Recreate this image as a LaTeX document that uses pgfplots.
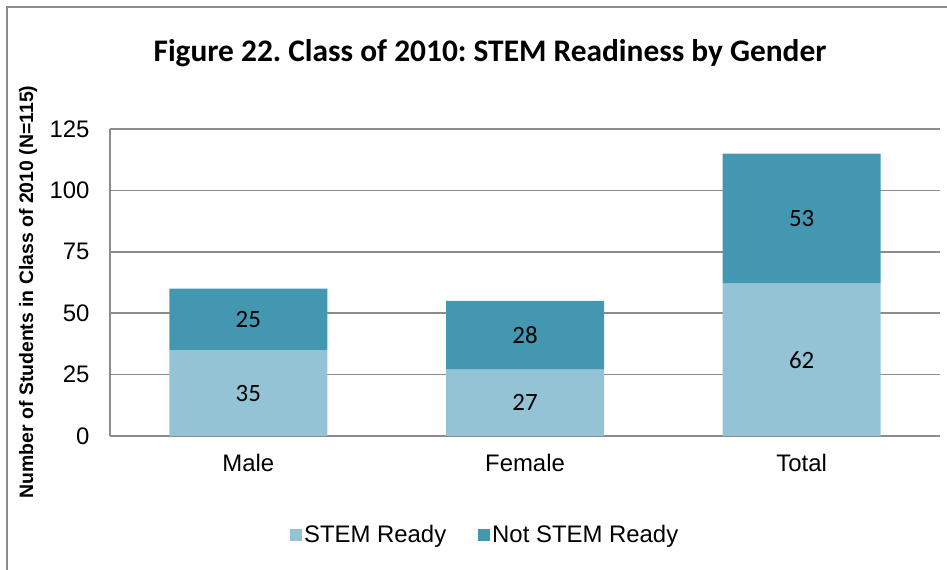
\documentclass[border=0pt]{standalone}
\usepackage{fontspec}
\setmainfont{Liberation Sans}
\newfontfamily\carlito{Carlito}
\usepackage{pgfplots}
\pgfplotsset{compat=1.18}
\definecolor{lightbar}{HTML}{93C3D5}
\definecolor{darkbar}{HTML}{4397B0}
\definecolor{gridc}{HTML}{8C8C8C}
\frenchspacing
\begin{document}
\begin{tikzpicture}[x=1bp,y=1bp]
\useasboundingbox (0,0) rectangle (947,570);
\draw[gridc, line width=2bp] (7,0) -- (7,563) -- (947,563);
\node[font=\carlito\bfseries\fontsize{31.5}{36}\selectfont, anchor=base, inner sep=0pt] at (490,508) {Figure 22. Class of 2010: STEM Readiness by Gender};
\node[font=\bfseries\fontsize{19.5}{22}\selectfont, rotate=90, anchor=center, inner sep=0pt] at (28,278) {Number of Students in Class of 2010 (N=115)};
\begin{axis}[
  at={(110bp,134bp)}, anchor=south west,
  scale only axis, width=830bp, height=307bp,
  ybar stacked, bar width=0.571,
  xmin=-0.5, xmax=2.5, ymin=0, ymax=125,
  xtick={0,1,2}, xticklabels={Male,Female,Total},
  ytick={0,25,50,75,100,125},
  ymajorgrids, grid style={gridc, line width=1.5bp},
  axis x line=bottom, axis y line=left,
  axis line style={-, gridc, line width=1.5bp},
  major tick length=0pt,
  tick label style={font=\fontsize{24}{28}\selectfont},
  /pgf/number format/assume math mode=true,
  yticklabel style={xshift=-17bp},
  xticklabel style={yshift=-15bp},
  legend columns=2,
  legend style={at={(0.452,-0.3225)}, anchor=center, draw=none, fill=none,
    font=\fontsize{24}{28}\selectfont,
    /tikz/every even column/.append style={column sep=30bp}},
  legend image code/.code={\fill[#1] (0bp,-6bp) rectangle (12bp,6bp);},
]
\addplot[fill=lightbar, draw=none] coordinates {(0,35) (1,27) (2,62)};
\addlegendentry{STEM Ready}
\addplot[fill=darkbar, draw=none] coordinates {(0,25) (1,28) (2,53)};
\addlegendentry{Not STEM Ready}
\end{axis}
\begin{axis}[
  at={(110bp,134bp)}, anchor=south west,
  scale only axis, width=830bp, height=307bp,
  xmin=-0.5, xmax=2.5, ymin=0, ymax=125,
  hide axis,
]
\addplot[draw=none, mark=none, nodes near coords, point meta=explicit symbolic,
  nodes near coords style={anchor=center, font=\carlito\fontsize{25}{30}\selectfont}]
  coordinates {(0,17.5)[35] (1,13.5)[27] (2,31)[62] (0,47.5)[25] (1,41)[28] (2,88.5)[53]};
\end{axis}
\end{tikzpicture}
\end{document}
